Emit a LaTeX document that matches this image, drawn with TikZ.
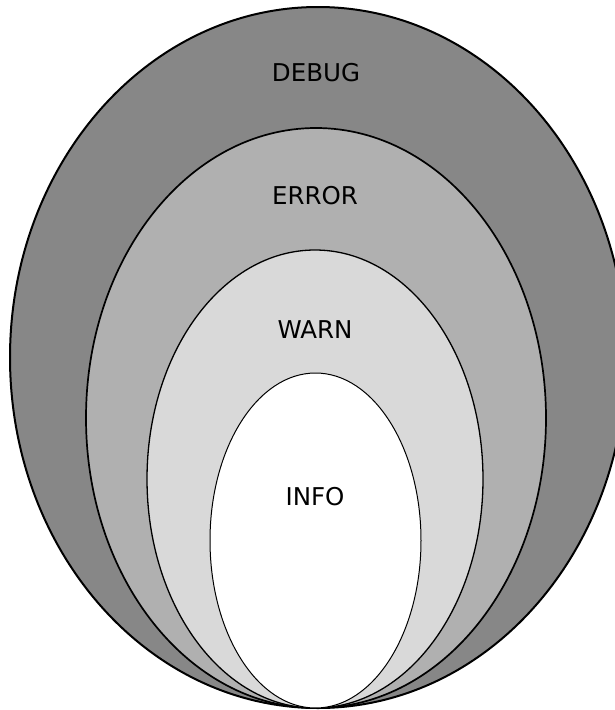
\documentclass[tikz,border=0pt]{standalone}
\usepackage{fontspec}
\setmainfont{DejaVu Sans}
\begin{document}
\begin{tikzpicture}[x=1pt,y=-1pt,
  level/.style={draw=black,line width=#1},
  lbl/.style={font=\fontsize{24.5}{28}\selectfont,text=black}]
\useasboundingbox (0,0) rectangle (615,710);
% nested log levels, all touching at the bottom
\filldraw[fill=black!47,level=2pt] (318,357.5) ellipse [x radius=308,y radius=350.5];
\filldraw[fill=black!31,level=1.7pt] (316,418) ellipse [x radius=230,y radius=290];
\filldraw[fill=black!15,level=1.3pt] (315,479) ellipse [x radius=168,y radius=229];
\filldraw[fill=white,level=1pt] (315.5,540.5) ellipse [x radius=105.5,y radius=167.5];
\node[lbl] (debug) at (316,73) {DEBUG};
\node[lbl] (error) at (315,196) {ERROR};
\node[lbl] (warn) at (315,330) {WARN};
\node[lbl] (info) at (315,497) {INFO};
\end{tikzpicture}
\end{document}
